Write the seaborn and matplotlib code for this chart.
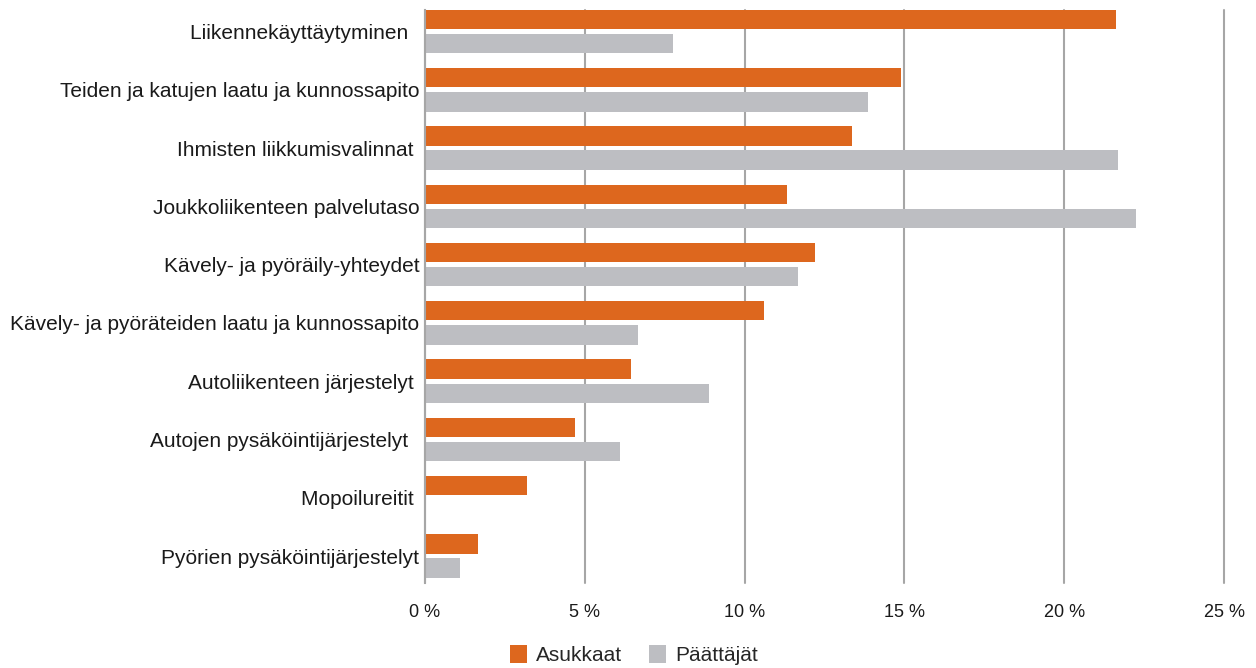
import pandas as pd
import seaborn as sns
import matplotlib.pyplot as plt
from matplotlib.patches import Patch

# Kategoriat ja arvot (%), luettu kuvasta
categories = ['Liikennekäyttäytyminen  ',
              'Teiden ja katujen laatu ja kunnossapito',
              'Ihmisten liikkumisvalinnat ',
              'Joukkoliikenteen palvelutaso',
              'Kävely- ja pyöräily-yhteydet',
              'Kävely- ja pyöräteiden laatu ja kunnossapito',
              'Autoliikenteen järjestelyt ',
              'Autojen pysäköintijärjestelyt  ',
              'Mopoilureitit ',
              'Pyörien pysäköintijärjestelyt']
asukkaat = [21.63, 14.9, 13.35, 11.34, 12.21, 10.61, 6.43, 4.7, 3.18, 1.65]
paattajat = [7.77, 13.87, 21.69, 22.25, 11.67, 6.67, 8.89, 6.1, 0.0, 1.10]
series = ['Asukkaat', 'Päättäjät']
colors = ['#DD671E', '#BDBEC2']
xticks = [0, 5, 10, 15, 20, 25]

df = pd.DataFrame({'kategoria': categories * 2,
                   'osuus': asukkaat + paattajat,
                   'ryhma': [series[0]] * len(categories) + [series[1]] * len(categories)})

sns.set_style('white')
plt.rcParams['font.family'] = ['Liberation Sans', 'DejaVu Sans']

fig = plt.figure(figsize=(12.56, 6.68), dpi=100)
ax = fig.add_axes([425 / 1256, 1 - 583 / 668, (1224 - 425) / 1256, (583 - 10) / 668])

sns.barplot(data=df, y='kategoria', x='osuus', hue='ryhma', order=categories,
            hue_order=series, palette=colors, width=0.83, gap=0.2,
            orient='h', linewidth=0, saturation=1, ax=ax, legend=False)

ax.set_xlim(0, 25)
ax.set_ylim(9.463, -0.369)
ax.set_xticks(xticks)
ax.set_xticklabels([f'{t} %' for t in xticks], fontsize=13)
ax.set_xlabel('')
ax.set_ylabel('')
ax.tick_params(axis='y', length=0, pad=4, labelsize=15, labelcolor='#1a1a1a')
ax.tick_params(axis='x', length=0, pad=15, labelcolor='#1a1a1a')
ax.grid(axis='x', color='#A6A6A6', linewidth=1.5)
ax.grid(axis='y', visible=False)
ax.set_axisbelow(True)
for line in ax.get_xgridlines():
    line.set_clip_on(False)
for s in ['top', 'right', 'bottom']:
    ax.spines[s].set_visible(False)
ax.spines['left'].set_color('#A6A6A6')
ax.spines['left'].set_linewidth(1.5)

handles = [Patch(facecolor=c, edgecolor='none') for c in colors]
fig.legend(handles, series, loc='center', bbox_to_anchor=(634 / 1256, 1 - 655 / 668),
           ncol=2, frameon=False, handlelength=0.8, handleheight=1.0,
           handletextpad=0.45, columnspacing=1.3,
           prop={'size': 15})

fig.savefig('out.png', dpi=100)
